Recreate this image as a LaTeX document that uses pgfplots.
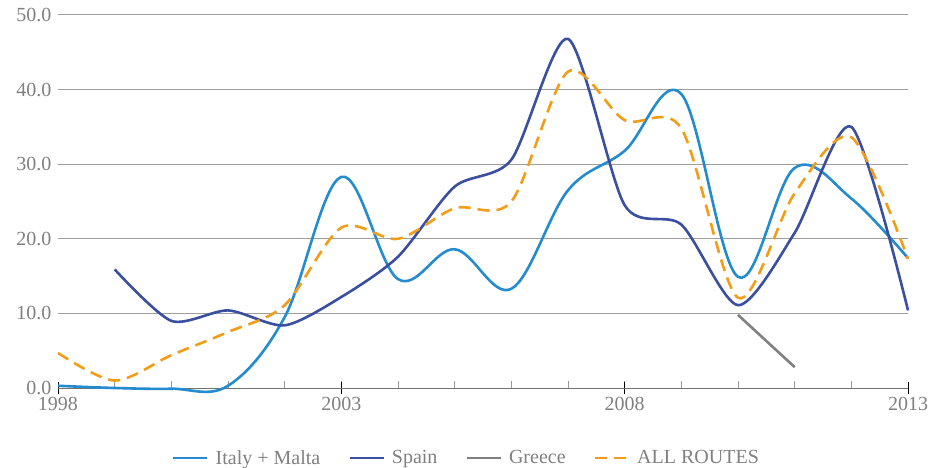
\documentclass[border=0pt]{standalone}
\usepackage{pgfplots}
\pgfplotsset{compat=1.18}
\usepackage{fontspec}
\setmainfont{Liberation Serif}
\definecolor{italy}{RGB}{35,139,206}
\definecolor{spain}{RGB}{59,79,160}
\definecolor{greece}{RGB}{128,128,128}
\definecolor{allr}{RGB}{243,156,24}
\definecolor{txt}{RGB}{128,128,128}
\begin{document}
\begin{tikzpicture}
\useasboundingbox (-58bp,-80bp) rectangle (885bp,388bp);
\begin{axis}[
  scale only axis, width=850bp, height=373bp,
  at={(0,0)}, anchor=origin,
  xmin=1998, xmax=2013, ymin=0, ymax=50,
  clip=false,
  axis x line*=bottom, axis y line*=left,
  y axis line style={draw=none},
  x axis line style={draw=black!55, line width=1bp},
  ytick={0,10,...,50},
  ymajorgrids, grid style={draw=black!38, line width=1bp},
  ytick style={draw=none},
  xtick={1998,2003,2008,2013},
  minor xtick={1999,...,2012},
  xtick align=center,
  major tick length=12bp, minor tick length=7bp,
  major x tick style={draw=black, line width=0.9bp},
  minor x tick style={draw=black!40, line width=0.7bp, yshift=3.5bp},
  /pgf/number format/assume math mode=true,
  xticklabel style={/pgf/number format/1000 sep={}, text=txt, font=\fontsize{20bp}{24bp}\selectfont},
  yticklabel style={/pgf/number format/fixed, /pgf/number format/fixed zerofill, /pgf/number format/precision=1, text=txt, font=\fontsize{20bp}{24bp}\selectfont, xshift=-3bp},
  legend style={at={(0.4806,-0.1877)}, anchor=center, legend columns=4, draw=none, fill=none,
     font=\fontsize{20bp}{24bp}\selectfont, text=txt,
     /tikz/every even column/.append style={column sep=26bp},
     /tikz/every odd column/.append style={column sep=5bp}},
  legend image code/.code={\draw[#1] (0bp,0bp) -- (34bp,0bp);},
  every axis plot/.append style={line width=2.6bp, smooth, tension=0.6},
]
\addplot[italy] coordinates {
(1998,0.3)(1999,0.0)(2000,-0.1)(2001,0.3)(2002,9.5)(2003,28.3)(2004,14.6)(2005,18.6)
(2006,13.3)(2007,26.5)(2008,31.8)(2009,39.4)(2010,14.9)(2011,29.5)(2012,25.4)(2013,17.4)};
\addlegendentry{Italy + Malta}
\addplot[spain, tension=0.45] coordinates {
(1999,15.9)(2000,9.0)(2001,10.4)(2002,8.4)(2003,12.2)(2004,17.6)(2005,27.0)(2006,30.6)
(2007,46.8)(2008,24.5)(2009,21.9)(2010,11.1)(2011,20.8)(2012,35.0)(2013,10.4)};
\addlegendentry{Spain}
\addplot[greece] coordinates {(2010,9.8)(2011,2.8)};
\addlegendentry{Greece}
\addplot[allr, tension=0.5, dash pattern=on 12bp off 7bp] coordinates {
(1998,4.7)(1999,1.0)(2000,4.4)(2001,7.5)(2002,11.1)(2003,21.5)(2004,20.0)(2005,24.1)
(2006,25.0)(2007,42.4)(2008,35.9)(2009,34.8)(2010,12.1)(2011,26.1)(2012,33.6)(2013,17.3)};
\addlegendentry{ALL ROUTES}
\end{axis}
\end{tikzpicture}
\end{document}
